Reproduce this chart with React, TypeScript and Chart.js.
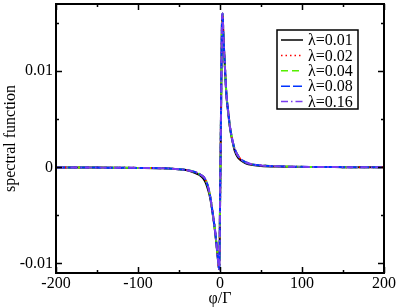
import React, { useEffect, useRef } from "react";
import { Chart, registerables } from "chart.js";

Chart.register(...registerables);

// ---- data ----
const phiOverGamma = [
  -200, -150, -100, -70, -50, -40, -30, -25, -20, -17, -14, -12, -10, -8, -6, -4, -2.5, -1.5, -0.8, 0,
  1, 2, 2.6, 3.2, 4, 5, 6, 7, 8, 10, 12, 14, 16, 18, 22, 26, 32, 40, 50, 70, 100, 150, 200,
];

const lambda001 = [
  -0.00002, -0.00003, -0.00006, -0.0001, -0.0002, -0.0003, -0.0006, -0.0008, -0.0012, -0.0017, -0.0025, -0.0032, -0.0042, -0.0054, -0.0067, -0.0083, -0.0096, -0.0104, -0.0106, -0.0044,
  0.0035, 0.0124, 0.0156, 0.0159, 0.014, 0.0121, 0.0104, 0.0087, 0.0073, 0.0057, 0.0042, 0.0032, 0.0024, 0.0017, 0.001, 0.0007, 0.0004, 0.00025, 0.00015, 0.00008, 0.00004, 0.00002, 0.00001,
];
const lambda002 = [
  -0.00002, -0.00003, -0.00006, -0.0001, -0.0002, -0.0003, -0.0005, -0.0007, -0.001, -0.0014, -0.0022, -0.003, -0.0041, -0.0053, -0.0066, -0.0082, -0.0095, -0.0104, -0.0106, -0.0043,
  0.0035, 0.0125, 0.0157, 0.0159, 0.014, 0.0122, 0.0105, 0.0088, 0.0074, 0.0058, 0.0043, 0.0033, 0.0025, 0.0019, 0.0012, 0.0008, 0.0005, 0.0003, 0.0002, 0.0001, 0.00005, 0.00002, 0.00001,
];
const lambda004 = [
  -0.00002, -0.00003, -0.00006, -0.0001, -0.0002, -0.0003, -0.0005, -0.0007, -0.001, -0.0014, -0.0022, -0.003, -0.0041, -0.0053, -0.0066, -0.0082, -0.0095, -0.0104, -0.0106, -0.0043,
  0.0035, 0.0125, 0.0157, 0.016, 0.014, 0.0122, 0.0105, 0.0088, 0.0074, 0.0058, 0.0043, 0.0033, 0.0025, 0.0019, 0.0012, 0.0008, 0.0005, 0.0003, 0.0002, 0.0001, 0.00005, 0.00002, 0.00001,
];
const lambda008 = [
  -0.00002, -0.00003, -0.00006, -0.0001, -0.0002, -0.0003, -0.0005, -0.0007, -0.001, -0.0014, -0.0022, -0.003, -0.0041, -0.0053, -0.0066, -0.0082, -0.0095, -0.0104, -0.0106, -0.0043,
  0.0035, 0.0125, 0.0157, 0.016, 0.014, 0.0122, 0.0105, 0.0088, 0.0074, 0.0058, 0.0043, 0.0033, 0.0025, 0.0019, 0.0012, 0.0008, 0.0005, 0.0003, 0.0002, 0.0001, 0.00005, 0.00002, 0.00001,
];
const lambda016 = [
  -0.00002, -0.00003, -0.00006, -0.0001, -0.0002, -0.0003, -0.0005, -0.0007, -0.001, -0.0014, -0.0022, -0.003, -0.0041, -0.0053, -0.0066, -0.0082, -0.0095, -0.0104, -0.0106, -0.0043,
  0.0035, 0.0125, 0.0157, 0.016, 0.014, 0.0122, 0.0105, 0.0088, 0.0074, 0.0058, 0.0043, 0.0033, 0.0025, 0.0019, 0.0012, 0.0008, 0.0005, 0.0003, 0.0002, 0.0001, 0.00005, 0.00002, 0.00001,
];

const seriesLabels = ["λ=0.01", "λ=0.02", "λ=0.04", "λ=0.08", "λ=0.16"];
const seriesValues = [lambda001, lambda002, lambda004, lambda008, lambda016];

const xTickValues = [-200, -100, 0, 100, 200];
const xTickLabels = ["-200", "-100", "0", "100", "200"];
const xMinorTickValues = [-150, -50, 50, 150];
const yTickValues = [-0.01, 0, 0.01];
const yTickLabels = ["-0.01", "0", "0.01"];
const yMinorTickValues = [-0.005, 0.005, 0.015];

const xTitle = "φ/Γ";
const yTitle = "spectral function";

// ---- styles ----
const SERIF = "'Liberation Serif', 'Times New Roman', serif";
const seriesStyles = [
  { color: "#000000", dash: [] as number[] },
  { color: "#ff0000", dash: [1.5, 3] },
  { color: "#55ee00", dash: [7, 4] },
  { color: "#0033ff", dash: [9, 3] },
  { color: "#7a3cf0", dash: [7, 3, 1.5, 3] },
];

const frameTicksPlugin = {
  id: "frameTicks",
  afterDraw(chart: any) {
    const { ctx, chartArea } = chart;
    const { left, right, top, bottom } = chartArea;
    const xs = chart.scales.x;
    const ys = chart.scales.y;
    ctx.save();
    ctx.strokeStyle = "#000";
    ctx.lineWidth = 2;
    ctx.strokeRect(left, top, right - left, bottom - top);
    ctx.lineWidth = 1.5;
    const major = 6;
    const minor = 3;
    ctx.beginPath();
    const xt = (vals: number[], len: number) => {
      vals.forEach((v) => {
        const px = Math.round(xs.getPixelForValue(v)) + 0.5;
        ctx.moveTo(px, bottom);
        ctx.lineTo(px, bottom - len);
        ctx.moveTo(px, top);
        ctx.lineTo(px, top + len);
      });
    };
    const yt = (vals: number[], len: number) => {
      vals.forEach((v) => {
        const py = Math.round(ys.getPixelForValue(v)) + 0.5;
        ctx.moveTo(left, py);
        ctx.lineTo(left + len, py);
        ctx.moveTo(right, py);
        ctx.lineTo(right - len, py);
      });
    };
    xt(xTickValues, major);
    xt(xMinorTickValues, minor);
    yt(yTickValues, major);
    yt(yMinorTickValues, minor);
    ctx.stroke();
    ctx.restore();
  },
};

const legendPlugin = {
  id: "boxLegend",
  afterDraw(chart: any) {
    const { ctx, chartArea } = chart;
    const bx = chartArea.right - 107;
    const by = chartArea.top + 26;
    const bw = 81;
    const bh = 79;
    ctx.save();
    ctx.fillStyle = "#fff";
    ctx.fillRect(bx, by, bw, bh);
    ctx.strokeStyle = "#000";
    ctx.lineWidth = 1.5;
    ctx.strokeRect(bx, by, bw, bh);
    ctx.font = `16px ${SERIF}`;
    ctx.textBaseline = "middle";
    ctx.textAlign = "left";
    seriesLabels.forEach((label, i) => {
      const y = by + 10 + i * 15.4;
      const st = seriesStyles[i];
      ctx.strokeStyle = st.color;
      ctx.lineWidth = 1.5;
      ctx.setLineDash(st.dash);
      ctx.beginPath();
      ctx.moveTo(bx + 4, y);
      ctx.lineTo(bx + 26, y);
      ctx.stroke();
      ctx.setLineDash([]);
      ctx.fillStyle = "#000";
      ctx.fillText(label, bx + 31, y + 1);
    });
    ctx.restore();
  },
};

export default function App() {
  const canvasRef = useRef<HTMLCanvasElement | null>(null);

  useEffect(() => {
    document.body.style.margin = "0";
    const canvas = canvasRef.current;
    if (!canvas) return;

    const datasets = seriesValues.map((vals, i) => ({
      label: seriesLabels[i],
      data: phiOverGamma.map((x, j) => ({ x, y: vals[j] })),
      borderColor: seriesStyles[i].color,
      borderDash: seriesStyles[i].dash,
      borderWidth: 2,
      pointRadius: 0,
      fill: false,
      cubicInterpolationMode: "monotone" as const,
      order: seriesValues.length - i,
    }));

    const chart = new Chart(canvas, {
      type: "line",
      data: { datasets },
      options: {
        animation: false,
        responsive: false,
        devicePixelRatio: 1,
        layout: { padding: { left: 0, right: 15, top: 4, bottom: 0 } },
        plugins: { legend: { display: false }, tooltip: { enabled: false } },
        scales: {
          x: {
            type: "linear",
            min: -200,
            max: 200,
            grid: { display: false, drawTicks: false },
            border: { display: false },
            afterBuildTicks: (s: any) => {
              s.ticks = xTickValues.map((v) => ({ value: v }));
            },
            afterFit: (s: any) => {
              s.height = 35;
              s.paddingLeft = 0;
              s.paddingRight = 0;
            },
            ticks: {
              padding: 1,
              color: "#000",
              maxRotation: 0,
              autoSkip: false,
              font: { family: SERIF, size: 16 },
              callback: (_v: any, i: number) => xTickLabels[i],
            },
            title: {
              display: true,
              text: xTitle,
              color: "#000",
              font: { family: SERIF, size: 16 },
              padding: { top: 0, bottom: 0 },
            },
          },
          y: {
            type: "linear",
            min: -0.011,
            max: 0.017,
            grid: { display: false, drawTicks: false },
            border: { display: false },
            afterBuildTicks: (s: any) => {
              s.ticks = yTickValues.map((v) => ({ value: v }));
            },
            afterFit: (s: any) => {
              s.width = 56;
              s.paddingTop = 0;
              s.paddingBottom = 0;
            },
            ticks: {
              padding: 3,
              color: "#000",
              autoSkip: false,
              font: { family: SERIF, size: 16 },
              callback: (_v: any, i: number) => yTickLabels[i],
            },
            title: {
              display: true,
              text: yTitle,
              color: "#000",
              font: { family: SERIF, size: 16 },
              padding: { top: 1, bottom: 0 },
            },
          },
        },
      },
      plugins: [frameTicksPlugin, legendPlugin],
    } as any);

    return () => chart.destroy();
  }, []);

  return (
    <div style={{ position: "fixed", left: 0, top: 0, width: 399, height: 308, background: "#fff" }}>
      <canvas ref={canvasRef} width={399} height={308} />
    </div>
  );
}
